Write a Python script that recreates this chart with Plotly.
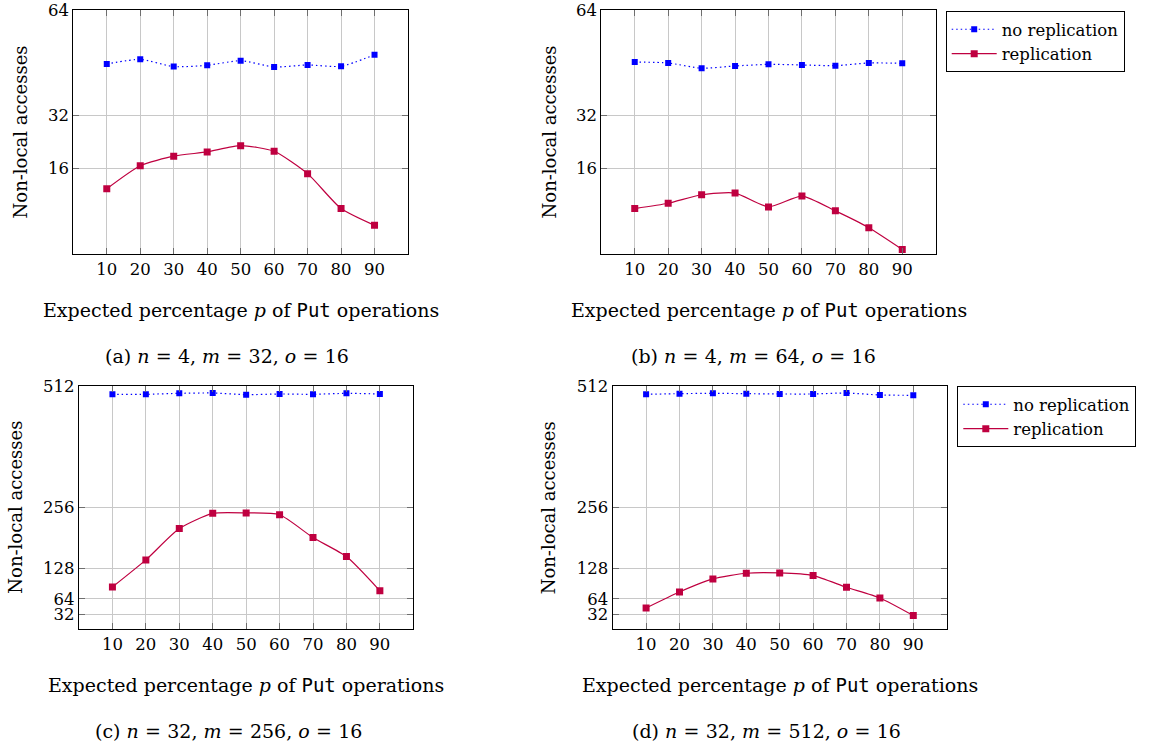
import plotly.graph_objects as go

x_vals = [10, 20, 30, 40, 50, 60, 70, 80, 90]

# (a) n=4, m=32, o=16
a_norep = [47.7, 49.1, 46.9, 47.3, 48.7, 46.8, 47.4, 47.0, 50.5]
a_rep = [9.8, 16.8, 19.7, 21.0, 22.9, 21.2, 14.4, 3.8, -1.3]
# (b) n=4, m=64, o=16
b_norep = [48.3, 48.0, 46.4, 47.1, 47.6, 47.4, 47.2, 48.0, 47.9]
b_rep = [3.8, 5.4, 8.0, 8.5, 4.3, 7.6, 3.1, -2.0, -8.6]
# (c) n=32, m=256, o=16
c_norep = [494.5, 494.5, 496.6, 497.3, 493.8, 495.2, 494.5, 496.6, 495.2]
c_rep = [89, 146, 212, 244, 245, 241, 193, 153, 81]
# (d) n=32, m=512, o=16
d_norep = [494.5, 495.9, 496.6, 495.9, 495.2, 495.2, 497.3, 493.1, 492.4]
d_rep = [45, 78.6, 106, 118, 118.6, 113, 88.4, 66, 29]

top_ticks = [16, 32, 64]
bottom_ticks = [32, 64, 128, 256, 512]

SP = "\u2004"
def cap(letter, n, m, o):
    return (f"({letter}) <i>n</i>{SP}={SP}{n}, <i>m</i>{SP}={SP}{m}, "
            f"<i>o</i>{SP}={SP}{o}")

captions = [cap("a", 4, 32, 16), cap("b", 4, 64, 16),
            cap("c", 32, 256, 16), cap("d", 32, 512, 16)]
xtitle = ("Expected percentage <i>p</i> of "
          "<span style='font-family:DejaVu Sans Mono'>Put</span> operations")
ytitle = "Non-local accesses"

W, H = 1155, 749
FONT = "DejaVu Serif"
BLUE = "#0000FF"
PURPLE = "#BF0040"

# panel boxes in pixels: (left, right, top, bottom)
boxes = [(73.3, 408.0, 10.3, 254.0),
         (601.3, 935.7, 10.3, 254.0),
         (79.0, 413.3, 386.0, 629.3),
         (612.7, 946.7, 386.0, 629.3)]
ytitle_dx = [53, 52, 63, 64]
caption_dx = [-14, -15, -18, -13]

series = [(a_norep, a_rep), (b_norep, b_rep), (c_norep, c_rep), (d_norep, d_rep)]
legend_for = [None, "legend", None, "legend2"]

fig = go.Figure()
layout = dict(width=W, height=H, margin=dict(l=0, r=0, t=0, b=0, autoexpand=False),
              template="none",
              paper_bgcolor="white", plot_bgcolor="white",
              font=dict(family=FONT, size=17, color="black"))

annotations = []
for i, ((l, r, t, b), (norep, rep)) in enumerate(zip(boxes, series)):
    n = i + 1
    xa = "x" if n == 1 else f"x{n}"
    ya = "y" if n == 1 else f"y{n}"
    lg = legend_for[i]
    fig.add_trace(go.Scatter(
        x=x_vals, y=norep, xaxis=xa, yaxis=ya, name="no replication",
        mode="lines+markers",
        line=dict(color=BLUE, width=1.2, dash="1.5px,3px", shape="spline", smoothing=0.6),
        marker=dict(symbol="square", size=6, color=BLUE),
        showlegend=lg is not None, legend=lg or "legend"))
    fig.add_trace(go.Scatter(
        x=x_vals, y=rep, xaxis=xa, yaxis=ya, name="replication",
        mode="lines+markers",
        line=dict(color=PURPLE, width=1.2, shape="spline", smoothing=0.6),
        marker=dict(symbol="square", size=7, color=PURPLE),
        showlegend=lg is not None, legend=lg or "legend"))

    xkey = "xaxis" if n == 1 else f"xaxis{n}"
    ykey = "yaxis" if n == 1 else f"yaxis{n}"
    common = dict(showgrid=True, gridcolor="#c8c8c8", gridwidth=1, automargin=False,
                  showline=True, linecolor="black", linewidth=1.2, mirror="allticks",
                  ticks="inside", ticklen=6, tickcolor="#6e6e6e", tickwidth=1,
                  zeroline=False, tickfont=dict(family=FONT, size=16.5))
    layout[xkey] = dict(domain=[l / W, r / W], anchor=ya, range=[0, 100],
                        tickvals=x_vals, ticktext=[str(v) for v in x_vals], **common)
    if i < 2:
        yr, yt = [-10, 64], top_ticks
    else:
        yr, yt = [0, 512], bottom_ticks
    layout[ykey] = dict(domain=[1 - b / H, 1 - t / H], anchor=xa, range=yr,
                        tickvals=yt, ticktext=[str(v) for v in yt], **common)

    cx = (l + r) / 2
    annotations.append(dict(text=xtitle, x=cx / W, y=1 - (b + 56) / H, xref="paper", yref="paper",
                            showarrow=False, xanchor="center", yanchor="middle",
                            font=dict(family=FONT, size=19)))
    annotations.append(dict(text=captions[i], x=(cx + caption_dx[i]) / W, y=1 - (b + 102) / H,
                            xref="paper", yref="paper",
                            showarrow=False, xanchor="center", yanchor="middle",
                            font=dict(family=FONT, size=19)))
    annotations.append(dict(text=ytitle, x=(l - ytitle_dx[i]) / W, y=1 - ((t + b) / 2) / H,
                            xref="paper", yref="paper",
                            showarrow=False, xanchor="center", yanchor="middle", textangle=-90,
                            font=dict(family=FONT, size=18)))

layout["annotations"] = annotations
legend_common = dict(bordercolor="black", borderwidth=1, bgcolor="white",
                     font=dict(family=FONT, size=16.5), xanchor="left", yanchor="top",
                     tracegroupgap=0, itemwidth=45)
layout["legend"] = dict(x=945.7 / W, y=1 - 11 / H, **legend_common)
layout["legend2"] = dict(x=957.3 / W, y=1 - 386 / H, **legend_common)

fig.update_layout(**layout)
fig.write_html("out.html")
